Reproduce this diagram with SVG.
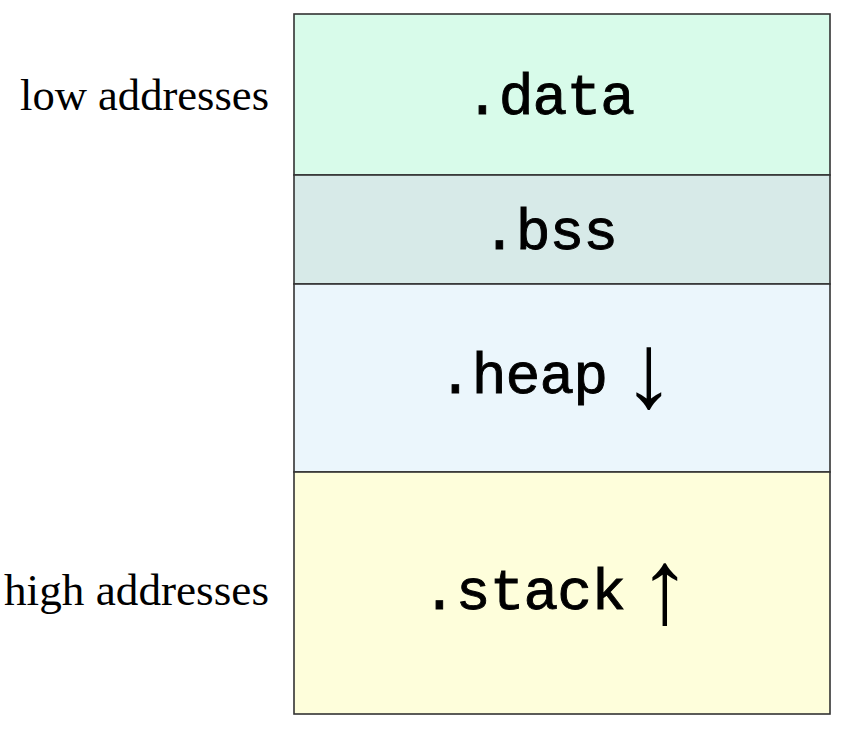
<svg xmlns="http://www.w3.org/2000/svg" width="849" height="731" viewBox="0 0 849 731">
<style>
.seg{stroke:#333;stroke-width:1.6}
.tt{font-family:"Liberation Mono","DejaVu Sans Mono",monospace;font-size:58px;fill:#000;stroke:#000;stroke-width:0.9}
.lbl{font-family:"Liberation Serif","DejaVu Serif",serif;font-size:44px;fill:#000;text-anchor:end}
.arr{font-family:"Liberation Serif","DejaVu Serif",serif;font-size:106px;fill:#000;text-anchor:middle}
</style>
<rect width="849" height="731" fill="#fff"/>
<g id="data">
<rect class="seg" x="294" y="14" width="536" height="161" fill="#d8fbea"/>
<text class="tt" x="465" y="114" textLength="170" lengthAdjust="spacing">.data</text>
</g>
<g id="bss">
<rect class="seg" x="294" y="175" width="536" height="109" fill="#d7eae8"/>
<text class="tt" x="482" y="249" textLength="136" lengthAdjust="spacing">.bss</text>
</g>
<g id="heap">
<rect class="seg" x="294" y="284" width="536" height="188" fill="#ebf6fc"/>
<text class="tt" x="438" y="393" textLength="170" lengthAdjust="spacing">.heap</text>
<text class="arr" x="649" y="407">↓</text>
</g>
<g id="stack">
<rect class="seg" x="294" y="472" width="536" height="242" fill="#fefedb"/>
<text class="tt" x="422" y="609" textLength="204" lengthAdjust="spacing">.stack</text>
<text class="arr" x="665" y="623">↑</text>
</g>
<g id="labels">
<text class="lbl" x="269" y="110" textLength="249" lengthAdjust="spacingAndGlyphs">low addresses</text>
<text class="lbl" x="269" y="605" textLength="265" lengthAdjust="spacingAndGlyphs">high addresses</text>
</g>
<g id="connectors"></g>
</svg>
